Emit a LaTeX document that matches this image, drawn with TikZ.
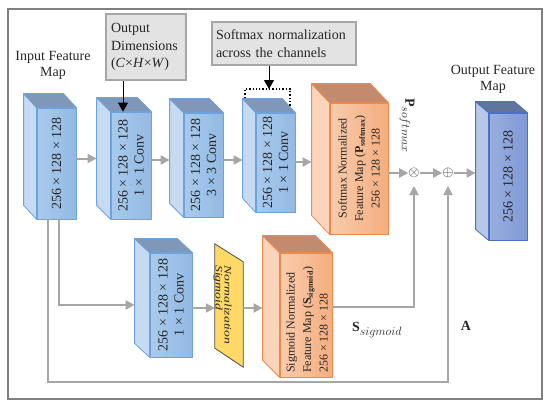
\documentclass[tikz,border=0pt]{standalone}
\usepackage{fontspec}
\setmainfont{Liberation Serif}
\usepackage{tikz}
\usetikzlibrary{arrows.meta,calc}
\DeclareMathSizes{14}{14}{11.5}{9}

% colours of the feature maps
\definecolor{convleft}{HTML}{A8CAEC}
\definecolor{convright}{HTML}{93B9E3}
\definecolor{convside}{HTML}{C6DBF1}
\definecolor{convtop}{HTML}{7F98B9}
\definecolor{convedge}{HTML}{6EA2DA}
\definecolor{mapleft}{HTML}{F9CBAC}
\definecolor{mapright}{HTML}{F4AE7E}
\definecolor{mapside}{HTML}{FAD5BC}
\definecolor{maptop}{HTML}{C38B6E}
\definecolor{mapedge}{HTML}{F0884A}
\definecolor{outleft}{HTML}{98AFDE}
\definecolor{outright}{HTML}{8099D6}
\definecolor{outside}{HTML}{B8C7E8}
\definecolor{outtop}{HTML}{60749C}
\definecolor{outedge}{HTML}{4A70C8}
\definecolor{flowgray}{HTML}{A6A6A6}
\definecolor{notefill}{HTML}{E3E3E3}
\definecolor{framegray}{HTML}{808080}
\definecolor{sigyellow}{HTML}{FFD966}

% back part of a feature map: side and top faces behind a front node
\newcommand{\addepth}[4]{%
  \coordinate (#1-nw) at ($(#1.north west)+(-#2,-#3)$);
  \coordinate (#1-ne) at ($(#1.north east)+(-#2,-#3)$);
  \coordinate (#1-sw) at ($(#1.south west)+(-#2,-#3)$);
  \filldraw[fill=#4side,draw=#4edge,line width=0.8pt,line join=round]
    (#1-nw) -- (#1.north west) -- (#1.south west) -- (#1-sw) -- cycle;
  \filldraw[fill=#4top,draw=#4edge,line width=0.8pt,line join=round]
    (#1-nw) -- (#1-ne) -- (#1.north east) -- (#1.north west) -- cycle;
}

\begin{document}
\begin{tikzpicture}[x=1pt,y=-1pt,
    every node/.style={text=black!85,font=\fontsize{14}{16}\selectfont},
    face/.style={draw=#1edge,line width=0.8pt,left color=#1left,right color=#1right,inner sep=0pt},
    celltext/.style={rotate=90,align=center,inner sep=0pt},
    maptext/.style={rotate=90,align=center,inner sep=0pt,font=\fontsize{12}{16.5}\selectfont},
    notebox/.style={draw=flowgray,fill=notefill,line width=1.5pt,inner sep=0pt,align=left,
      font=\fontsize{14}{17.5}\selectfont},
    flow/.style={draw=flowgray,line width=2pt,-{Triangle[length=9pt,width=9pt]}},
    pointer/.style={draw=black,line width=1pt,-{Triangle[length=9pt,width=10pt]}},
    opnode/.style={inner sep=0pt,font=\fontsize{14}{14}\selectfont}]

  \useasboundingbox (0,0) rectangle (550,407);

  % --- outer frame ---
  \draw[framegray,line width=1.5pt] (8,9) rectangle (542,399);

  % --- upper branch ---
  \node[face=conv,minimum width=39pt,minimum height=111pt] (b1) at (56.5,163.5) {};
  \addepth{b1}{13}{14}{conv}
  \node[celltext] (b1t) at (b1) {256 × 128 × 128};

  \node[face=conv,minimum width=40pt,minimum height=107pt] (b2) at (131,165.5) {};
  \addepth{b2}{14}{14}{conv}
  \node[celltext] (b2t) at (b2) {256 × 128 × 128\\1 × 1 Conv};

  \node[face=conv,minimum width=39pt,minimum height=104pt] (b3) at (203.5,165) {};
  \addepth{b3}{14}{14}{conv}
  \node[celltext] (b3t) at (b3) {256 × 128 × 128\\3 × 3 Conv};

  \node[face=conv,minimum width=39pt,minimum height=99pt] (b4) at (275.5,162.5) {};
  \addepth{b4}{13}{14}{conv}
  \node[celltext] (b4t) at (b4) {256 × 128 × 128\\1 × 1 Conv};

  \node[face=map,minimum width=58pt,minimum height=131pt] (sm) at (359,168.5) {};
  \addepth{sm}{18}{19}{map}
  \node[maptext] (smt) at (sm) {Softmax Normalized\\Feature Map (\textbf{P}\textsubscript{\textbf{softmax}})\\256 × 128 × 128};

  \node[face=out,minimum width=38pt,minimum height=127pt] (out) at (508,176.5) {};
  \addepth{out}{13}{11}{out}
  \node[celltext] (outt) at (out) {256 × 128 × 128};

  % --- lower branch ---
  \node[face=conv,minimum width=42pt,minimum height=104pt] (b5) at (171,305) {};
  \addepth{b5}{15}{14}{conv}
  \node[celltext] (b5t) at (b5) {256 × 128 × 128\\1 × 1 Conv};

  \node[minimum width=28pt,minimum height=123pt,inner sep=0pt] (sg) at (229,305.5) {};
  \filldraw[fill=sigyellow,draw=black!70,line width=0.8pt]
    (sg.north west) -- ([yshift=-18pt]sg.north east) -- (sg.south east)
    -- ([yshift=19pt]sg.south west) -- cycle;
  \node[rotate=-90,anchor=west,inner sep=0pt,font=\fontsize{10}{10}\itshape] (sgt1) at (218,265)
    {\scalebox{1.37}[1]{Sigmoid}};
  \node[rotate=-90,anchor=west,inner sep=0pt,font=\fontsize{10}{10}\itshape] (sgt2) at (228,265)
    {\scalebox{1.37}[1]{Normalization}};

  \node[face=map,minimum width=52pt,minimum height=124pt] (sc) at (306,315) {};
  \addepth{sc}{17}{17}{map}
  \node[maptext,anchor=west,align=left] (sct) at (307,373) {Sigmoid Normalized\\Feature Map (\textbf{S}\textsubscript{\textbf{sigmoid}})\\256 × 128 × 128};

  % --- operations ---
  \node[opnode] (mul) at (414,173) {$\otimes$};
  \node[opnode] (add) at (448,173) {$\oplus$};

  % --- arrows between the maps ---
  \foreach \a/\b/\s in {b1/b2/5, b2/b3/5.5, b3/b4/5, b4/sm/0.5}{
    \path ([yshift=\s pt]\a.east) coordinate (from);
    \draw[flow] (from) -- (from -| \b-sw);
  }
  \draw[flow] (sm.east |- mul.west) -- (mul.west);
  \draw[flow] (mul.east) -- (add.west);
  \draw[flow] (add.east) -- (add.east -| out-sw);

  \path ([yshift=-3pt]b5.east) coordinate (from);
  \draw[flow] (from) -- (from -| sg.west);
  \draw[flow] (from -| sg.east) -- (from -| sc-sw);

  \draw[flow] ([xshift=2.5pt]b1.south) |- (b5-sw |- b5.west);
  \draw[flow,shorten >=8pt] ([yshift=8pt]sc.east) -| (mul.south);
  \coordinate (base) at (48,382);
  \draw[flow,shorten >=8pt] ([xshift=-8.5pt]b1.south) -- (base) -| (add.south);

  % --- notes ---
  \node[notebox,minimum width=80pt,minimum height=66pt,text width=70pt] (dims) at (146,47)
    {Output\\Dimensions\\(\textit{C}×\textit{H}×\textit{W})};
  \path ([xshift=-23pt]dims.south) coordinate (dimsfoot);
  \draw[pointer] (dimsfoot) -- (dimsfoot |- b2.north);

  \node[notebox,minimum width=144pt,minimum height=43pt,text width=136pt] (smx) at (284,43.5)
    {Softmax normalization\\across the channels};
  \draw[black,dotted,line width=1.3pt] (245,98) -- (245,89) -- (290,89) -- (290,107);
  \coordinate (brk) at (269,89);
  \path ([xshift=-15pt]smx.south) coordinate (smxfoot);
  \draw[pointer] (smxfoot) -- (smxfoot |- brk);

  % --- labels ---
  \node[align=center] (inlab) at (53,65) {Input Feature\\Map};
  \node[align=center] (outlab) at (493,79) {Output Feature\\Map};
  \node[rotate=-90,anchor=west,inner sep=0pt] (plab) at (407,98) {$\mathbf{P}_{softmax}$};
  \node (slab) at (377,330) {$\mathbf{S}_{sigmoid}$};
  \node (alab) at (466,326) {$\mathbf{A}$};

\end{tikzpicture}
\end{document}
